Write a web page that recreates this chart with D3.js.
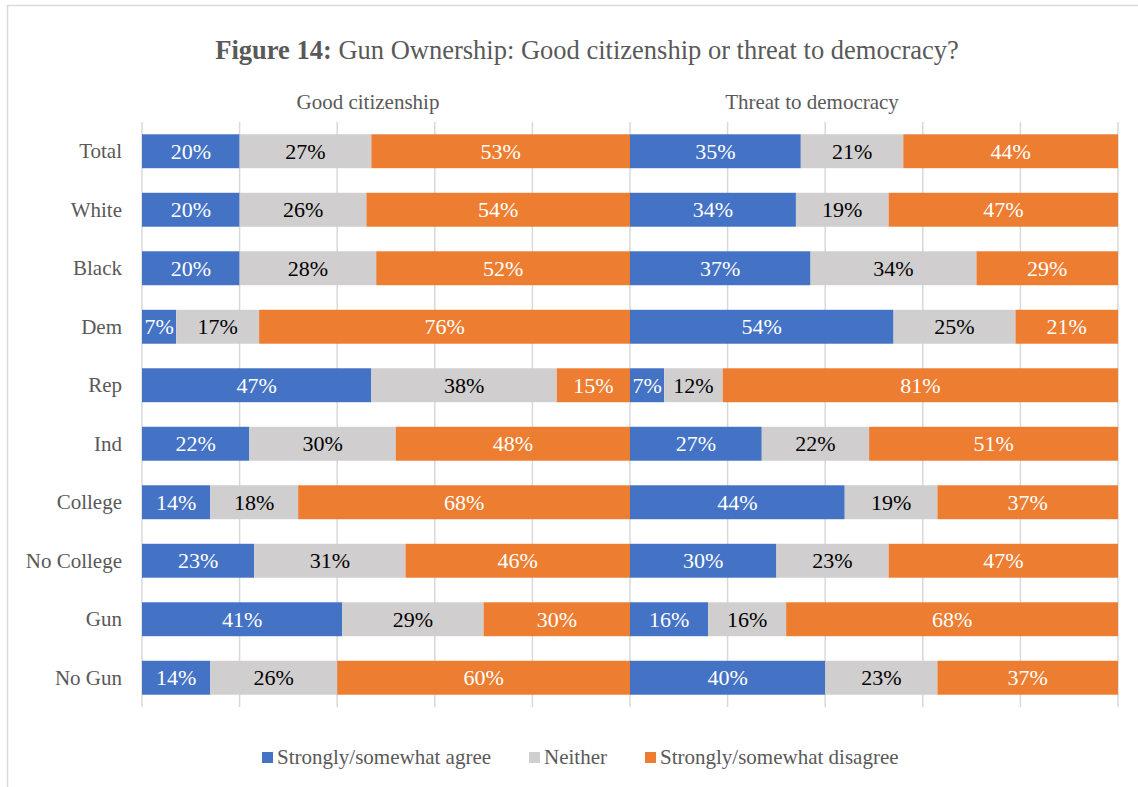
<!DOCTYPE html>
<html>
<head>
  <title>Figure 14</title>
  <style>
    body { margin: 0; background: #fff; }
    svg { display: block; }
    text { font-family: "Liberation Serif", "Times New Roman", serif; }
  </style>
</head>
<body>
  <div id="chart"></div>

  <script src="https://d3js.org/d3.v7.min.js"></script>
  <script>
    // Data
    const groups = ["Total", "White", "Black", "Dem", "Rep", "Ind", "College", "No College", "Gun", "No Gun"];
    const series = ["Strongly/somewhat agree", "Neither", "Strongly/somewhat disagree"];
    const panels = ["Good citizenship", "Threat to democracy"];

    // Good citizenship
    const goodAgree    = [20, 20, 20, 7, 47, 22, 14, 23, 41, 14];
    const goodNeither  = [27, 26, 28, 17, 38, 30, 18, 31, 29, 26];
    const goodDisagree = [53, 54, 52, 76, 15, 48, 68, 46, 30, 60];

    // Threat to democracy
    const threatAgree    = [35, 34, 37, 54, 7, 27, 44, 30, 16, 40];
    const threatNeither  = [21, 19, 34, 25, 12, 22, 19, 23, 16, 23];
    const threatDisagree = [44, 47, 29, 21, 81, 51, 37, 47, 68, 37];

    const colors = ["#4472C4", "#D0CECE", "#ED7D31"];
    const labelColors = ["#fff", "#000", "#fff"];

    const W = 1138, H = 787;
    const svg = d3.select("#chart")
      .append("svg")
      .attr("width", W)
      .attr("height", H);

    // chart frame
    svg.append("rect")
      .attr("x", 7.5).attr("y", 5.5)
      .attr("width", W + 20).attr("height", H + 20)
      .attr("fill", "none")
      .attr("stroke", "#d9d9d9")
      .attr("stroke-width", 1.5);

    // title
    const title = svg.append("text")
      .attr("x", 587).attr("y", 59)
      .attr("text-anchor", "middle")
      .attr("fill", "#595959")
      .style("font-size", "26.5px");
    title.append("tspan").attr("font-weight", "bold").text("Figure 14:");
    title.append("tspan").text(" Gun Ownership: Good citizenship or threat to democracy?");

    const y = d3.scaleBand()
      .domain(groups)
      .range([122, 707])
      .paddingInner(0.42)
      .paddingOuter(0.21);

    const xPanels = [
      d3.scaleLinear().domain([0, 100]).range([142, 630]),
      d3.scaleLinear().domain([0, 100]).range([630, 1118])
    ];
    const panelData = [
      [goodAgree, goodNeither, goodDisagree],
      [threatAgree, threatNeither, threatDisagree]
    ];
    const subtitleX = [368, 812];

    // gridlines
    xPanels.forEach((x, p) => {
      const ticks = p === 0 ? [0, 20, 40, 60, 80, 100] : [20, 40, 60, 80, 100];
      svg.append("g")
        .selectAll("line")
        .data(ticks)
        .join("line")
        .attr("x1", d => x(d)).attr("x2", d => x(d))
        .attr("y1", 122).attr("y2", 707)
        .attr("stroke", "#d9d9d9")
        .attr("stroke-width", 1.5);
    });

    // category labels
    svg.append("g")
      .selectAll("text")
      .data(groups)
      .join("text")
      .attr("x", 122)
      .attr("y", d => y(d) + y.bandwidth() / 2)
      .attr("dy", "0.33em")
      .attr("text-anchor", "end")
      .attr("fill", "#595959")
      .style("font-size", "21px")
      .text(d => d);

    panels.forEach((name, p) => {
      const x = xPanels[p];
      const rows = groups.map((g, i) => {
        const vals = panelData[p].map(arr => arr[i]);
        let acc = 0;
        return vals.map((v, s) => {
          const seg = { group: g, s, v, x0: acc, x1: acc + v };
          acc += v;
          return seg;
        });
      }).flat();

      svg.append("text")
        .attr("x", subtitleX[p]).attr("y", 109)
        .attr("text-anchor", "middle")
        .attr("fill", "#595959")
        .style("font-size", "21px")
        .text(name);

      svg.append("g")
        .selectAll("rect")
        .data(rows)
        .join("rect")
        .attr("x", d => x(d.x0))
        .attr("width", d => x(d.x1) - x(d.x0))
        .attr("y", d => y(d.group))
        .attr("height", y.bandwidth())
        .attr("fill", d => colors[d.s]);

      svg.append("g")
        .selectAll("text")
        .data(rows)
        .join("text")
        .attr("x", d => (x(d.x0) + x(d.x1)) / 2)
        .attr("y", d => y(d.group) + y.bandwidth() / 2)
        .attr("dy", "0.35em")
        .attr("text-anchor", "middle")
        .attr("fill", d => labelColors[d.s])
        .style("font-size", "22px")
        .text(d => d.v + "%");
    });

    // legend
    const legendX = [262, 529, 645];
    const legend = svg.append("g")
      .selectAll("g")
      .data(series)
      .join("g")
      .attr("transform", (d, i) => `translate(${legendX[i]}, 757)`);
    legend.append("rect")
      .attr("x", 0).attr("y", -5)
      .attr("width", 11).attr("height", 11)
      .attr("fill", (d, i) => colors[i]);
    legend.append("text")
      .attr("x", 15)
      .attr("dy", "0.35em")
      .attr("fill", "#595959")
      .style("font-size", "21px")
      .text(d => d);
  </script>
</body>
</html>
